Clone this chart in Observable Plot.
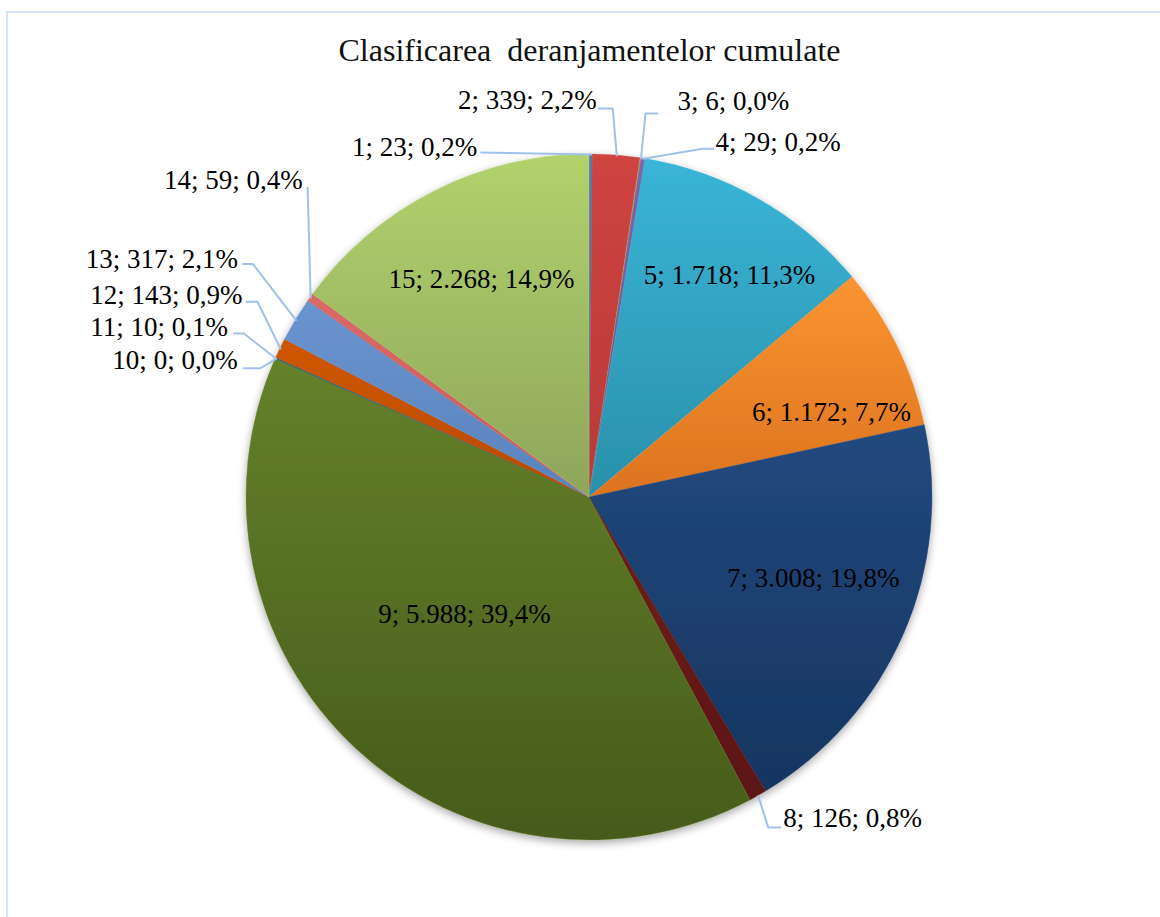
<!DOCTYPE html>
<html><head><meta charset="utf-8">
<script src="https://cdn.jsdelivr.net/npm/d3@7"></script>
<script src="https://cdn.jsdelivr.net/npm/@observablehq/plot@0.6"></script>
<style>
html,body{margin:0;padding:0;background:#fff;}
#wrap{position:relative;width:1160px;height:917px;overflow:hidden;}
#frame{position:absolute;left:6px;top:11px;width:1300px;height:1000px;border-top:2px solid #d6e4f5;border-left:2px solid #d6e4f5;}
#chart{position:absolute;left:0;top:0;}
svg text{white-space:pre;}
</style></head><body>
<div id="wrap"><div id="frame"></div><div id="chart"></div></div>
<script>
// ---- data ----
const title = "Clasificarea  deranjamentelor cumulate";
const categories = [1, 2, 3, 4, 5, 6, 7, 8, 9, 10, 11, 12, 13, 14, 15];
const values = [23, 339, 6, 29, 1718, 1172, 3008, 126, 5988, 0, 10, 143, 317, 59, 2268];
const colorsTop    = ["#4a7ebb","#cf4440","#9bbb59","#8064a9","#3ab5d7","#fa9432","#22497e","#6e1d1a","#65812b","#4d3b62","#276a7c","#cf5602","#6a94cf","#da6a67","#b2d26d"];
const colorsBottom = ["#3f6ea8","#b8393a","#8aa84c","#6f5496","#2a90aa","#dc731f","#163560","#5c1714","#465b1b","#3f3050","#1f5868","#b84c00","#5a83bd","#c95c5a","#8ea55b"];

// ---- layout ----
const W = 1160, H = 917, cx = 589, cy = 497, R = 343, titleY = 50;
// outside labels: text anchor offset from slice edge point, leader attach offset, horizontal segment
const outsideLayout = {
  1:  {anchor: "end",   dx: -114, dy: -7,   tx: 4,   ty: 5,  h: 0},
  2:  {anchor: "end",   dx: -20,  dy: -55,  tx: 2,   ty: 8,  h: 14},
  3:  {anchor: "start", dx: 36.5, dy: -57,  tx: -20, ty: 12, h: 12},
  4:  {anchor: "start", dx: 72,   dy: -16,  tx: -2,  ty: 6,  h: 11},
  8:  {anchor: "start", dx: 25,   dy: 22.5, tx: -3,  ty: 9,  h: 12},
  10: {anchor: "end",   dx: -38,  dy: 1,    tx: 6,   ty: 8,  h: 17},
  11: {anchor: "end",   dx: -48,  dy: -31,  tx: 6,   ty: 6,  h: 10},
  12: {anchor: "end",   dx: -38,  dy: -53,  tx: 4,   ty: 6,  h: 11},
  13: {anchor: "end",   dx: -58,  dy: -61,  tx: 5,   ty: 5,  h: 10},
  14: {anchor: "end",   dx: -8,   dy: -117, tx: 5,   ty: 7,  h: 0}
};
// inside labels: [radius fraction, angle shift in degrees]
const insideLayout = {5: [0.765, 2.5], 6: [0.748, 6.7], 7: [0.694, -3.5], 9: [0.499, 4.0], 15: [0.709, 0.45]};

// ---- derived ----
const total = d3.sum(values);
const fmtInt = v => String(v).replace(/\B(?=(\d{3})+(?!\d))/g, ".");
const fmtPct = v => (v / total * 100).toFixed(1).replace(".", ",") + "%";
const table = categories.map((c, i) => ({cat: c, value: values[i], top: colorsTop[i], bottom: colorsBottom[i],
  label: `${c}; ${fmtInt(values[i])}; ${fmtPct(values[i])}`}));
const arcs = d3.pie().value(d => d.value).sort(null).startAngle(0).endAngle(2 * Math.PI)(table);
const polar = (a, r) => ({x: cx + r * Math.sin(a), y: cy - r * Math.cos(a)});

const insideLabels = [], outsideLeft = [], outsideRight = [], leaders = [];
for (const a of arcs) {
  const d = a.data, mid = (a.startAngle + a.endAngle) / 2;
  if (insideLayout[d.cat]) {
    const [f, s] = insideLayout[d.cat];
    const p = polar(mid + s * Math.PI / 180, f * R);
    insideLabels.push({...p, label: d.label});
  } else if (outsideLayout[d.cat]) {
    const L = outsideLayout[d.cat];
    const e = polar(mid, R);
    const t = {x: e.x + L.dx, y: e.y + L.dy, label: d.label};
    (L.anchor === "end" ? outsideLeft : outsideRight).push(t);
    const dir = L.anchor === "end" ? 1 : -1;
    const T = {x: t.x + L.tx, y: t.y + L.ty};
    const B = {x: T.x + dir * L.h, y: T.y};
    leaders.push({id: d.cat, x: e.x, y: e.y}, {id: d.cat, x: B.x, y: B.y}, {id: d.cat, x: T.x, y: T.y});
  }
}

function pieMark(index, scales) {
  const g = d3.create("svg:g");
  const defs = g.append("defs");
  const f = defs.append("filter").attr("id", "pieShadow").attr("x", "-10%").attr("y", "-10%").attr("width", "120%").attr("height", "120%");
  f.append("feDropShadow").attr("dx", 0).attr("dy", 3).attr("stdDeviation", 4).attr("flood-color", "#000").attr("flood-opacity", 0.35);
  for (const a of arcs) {
    const lg = defs.append("linearGradient").attr("id", "grad" + a.data.cat).attr("x1", 0).attr("y1", 0).attr("x2", 0).attr("y2", 1);
    lg.append("stop").attr("offset", "0%").attr("stop-color", a.data.top);
    lg.append("stop").attr("offset", "100%").attr("stop-color", a.data.bottom);
  }
  const x0 = scales.x(cx), y0 = scales.y(cy), r = scales.x(cx + R) - x0;
  const arc = d3.arc().innerRadius(0).outerRadius(r);
  g.append("g").attr("transform", `translate(${x0},${y0})`).attr("filter", "url(#pieShadow)")
    .selectAll("path").data(arcs.filter(a => a.value > 0)).join("path")
    .attr("d", arc).attr("fill", a => `url(#grad${a.data.cat})`)
    .attr("stroke", a => a.data.top).attr("stroke-width", 0.4);
  return g.node();
}

const font = "'Liberation Serif', 'Times New Roman', serif";
const chart = Plot.plot({
  width: W, height: H, margin: 0,
  x: {domain: [0, W], range: [0, W], axis: null},
  y: {domain: [0, H], range: [0, H], axis: null},
  style: {background: "transparent", overflow: "visible"},
  marks: [
    pieMark,
    Plot.line(leaders, {x: "x", y: "y", z: "id", stroke: "#9fc1ea", strokeWidth: 2, strokeLinejoin: "miter"}),
    Plot.text(insideLabels, {x: "x", y: "y", text: "label", textAnchor: "middle", lineAnchor: "middle", fontFamily: font, fontSize: 27, fill: "#000"}),
    Plot.text(outsideLeft, {x: "x", y: "y", text: "label", textAnchor: "end", lineAnchor: "middle", fontFamily: font, fontSize: 27, fill: "#000"}),
    Plot.text(outsideRight, {x: "x", y: "y", text: "label", textAnchor: "start", lineAnchor: "middle", fontFamily: font, fontSize: 27, fill: "#000"}),
    Plot.text([title], {x: () => cx, y: () => titleY, text: d => d, textAnchor: "middle", lineAnchor: "middle", fontFamily: font, fontSize: 32, fill: "#111"})
  ]
});
document.getElementById("chart").appendChild(chart);
</script>
</body></html>
